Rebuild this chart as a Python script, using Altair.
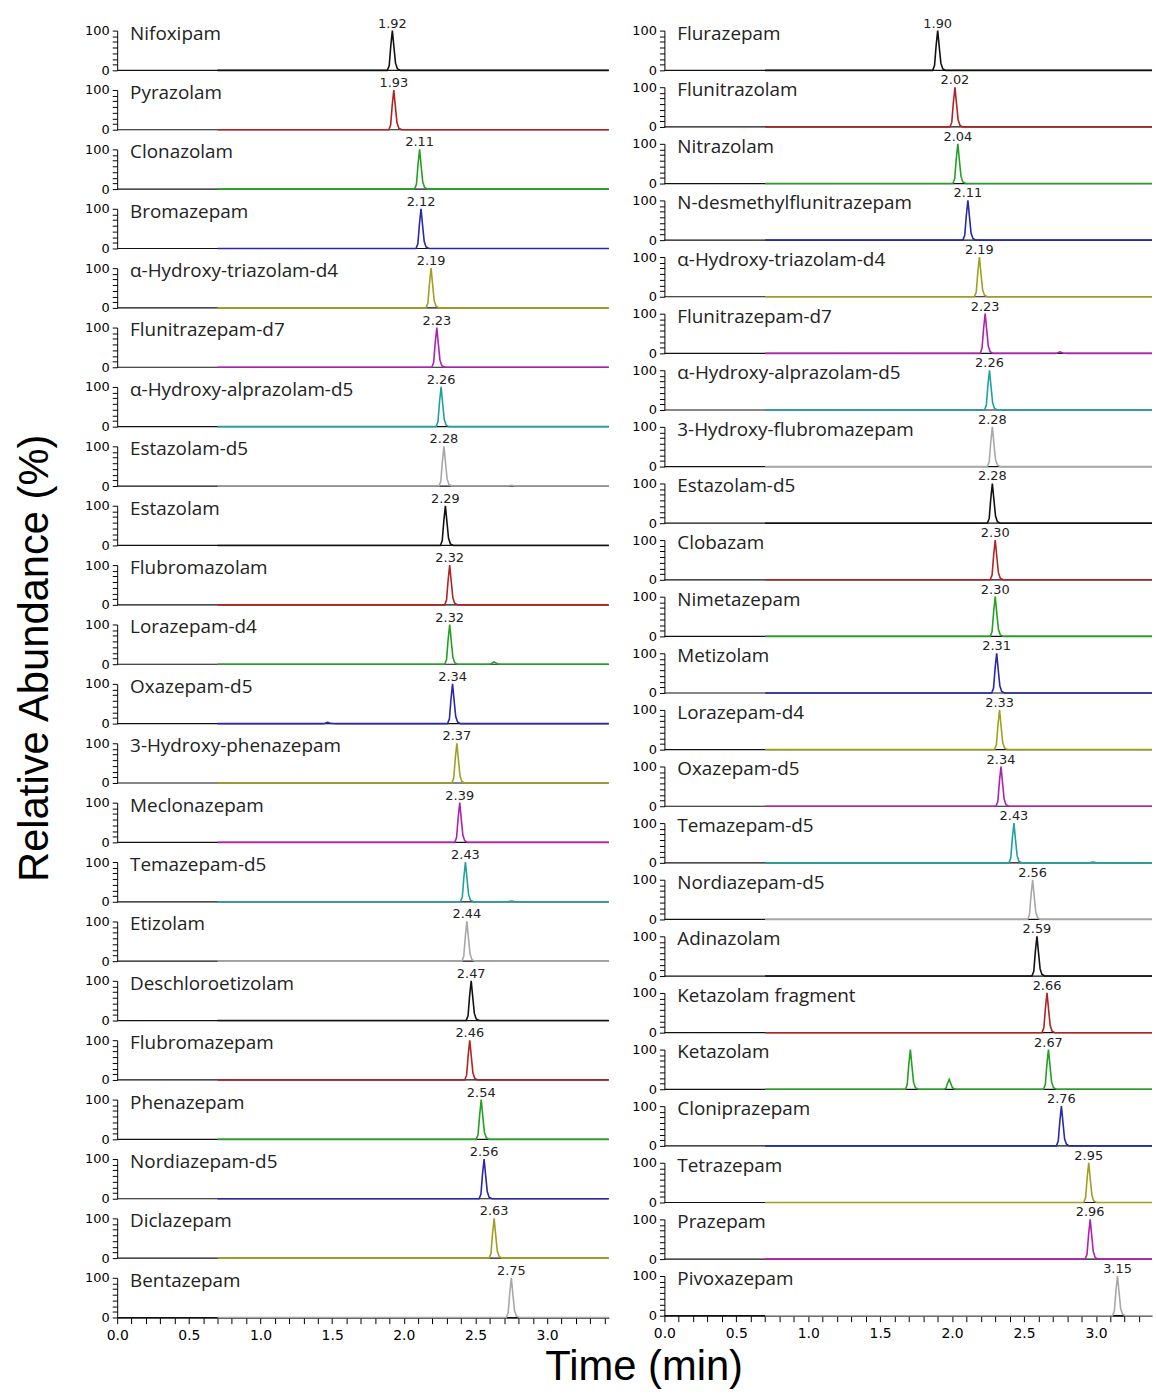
import altair as alt
import pandas as pd

# ---------------- data ----------------
left_names = [
    "Nifoxipam", "Pyrazolam", "Clonazolam", "Bromazepam", "α-Hydroxy-triazolam-d4",
    "Flunitrazepam-d7", "α-Hydroxy-alprazolam-d5", "Estazolam-d5", "Estazolam",
    "Flubromazolam", "Lorazepam-d4", "Oxazepam-d5", "3-Hydroxy-phenazepam",
    "Meclonazepam", "Temazepam-d5", "Etizolam", "Deschloroetizolam", "Flubromazepam",
    "Phenazepam", "Nordiazepam-d5", "Diclazepam", "Bentazepam",
]
left_rt = [1.92, 1.93, 2.11, 2.12, 2.19, 2.23, 2.26, 2.28, 2.29, 2.32, 2.32, 2.34,
           2.37, 2.39, 2.43, 2.44, 2.47, 2.46, 2.54, 2.56, 2.63, 2.75]
left_color_keys = ["black", "red", "green", "blue", "olive", "magenta", "teal", "gray",
                   "black", "red", "green", "blue", "olive", "magenta", "teal", "gray",
                   "black", "red", "green", "blue", "olive", "gray"]

right_names = [
    "Flurazepam", "Flunitrazolam", "Nitrazolam", "N-desmethylflunitrazepam",
    "α-Hydroxy-triazolam-d4", "Flunitrazepam-d7", "α-Hydroxy-alprazolam-d5",
    "3-Hydroxy-flubromazepam", "Estazolam-d5", "Clobazam", "Nimetazepam", "Metizolam",
    "Lorazepam-d4", "Oxazepam-d5", "Temazepam-d5", "Nordiazepam-d5", "Adinazolam",
    "Ketazolam fragment", "Ketazolam", "Cloniprazepam", "Tetrazepam", "Prazepam",
    "Pivoxazepam",
]
right_rt = [1.90, 2.02, 2.04, 2.11, 2.19, 2.23, 2.26, 2.28, 2.28, 2.30, 2.30, 2.31,
            2.33, 2.34, 2.43, 2.56, 2.59, 2.66, 2.67, 2.76, 2.95, 2.96, 3.15]
right_color_keys = ["black", "red", "green", "blue", "olive", "magenta", "teal", "gray",
                    "black", "red", "green", "blue", "olive", "magenta", "teal", "gray",
                    "black", "red", "green", "blue", "olive", "magenta", "gray"]

# peak profile (time offset from apex in min, relative abundance %)
peak_offsets = [-0.035, -0.022, -0.011, 0.0, 0.011, 0.022, 0.035, 0.055]
peak_profile = [0, 12, 62, 100, 58, 18, 4, 0]

# secondary / minor peaks: (column, compound, time, height %)
minor_peaks = [
    ("left", "Lorazepam-d4", 2.63, 6),
    ("left", "Oxazepam-d5", 1.47, 3),
    ("left", "Estazolam-d5", 2.75, 2),
    ("left", "Temazepam-d5", 2.75, 2),
    ("right", "Flunitrazepam-d7", 2.75, 4),
    ("right", "Ketazolam", 1.71, 100),
    ("right", "Ketazolam", 1.98, 25),
    ("right", "Temazepam-d5", 2.98, 2),
]

acq_start = 0.7          # trace starts here (min)
x_major = [0.0, 0.5, 1.0, 1.5, 2.0, 2.5, 3.0]
y_labels = [0, 100]

palette = {
    "black": "#111111", "red": "#B22222", "green": "#22A022", "blue": "#2828A8",
    "olive": "#A0A020", "magenta": "#B020B0", "teal": "#20A0A0", "gray": "#A8A8A8",
}

NAME_FONT = "Open Sans"
NUM_FONT = "DejaVu Sans"
TITLE_FONT = "Liberation Sans"


def build_rows(col, names, rts, color_keys, x_end):
    rows = []
    for name, rt, ck in zip(names, rts, color_keys):
        peaks = [(rt, 100.0, True)]
        for c, n, t, h in minor_peaks:
            if c == col and n == name:
                peaks.append((t, float(h), False))
        peaks.sort()
        col_hex = palette[ck]
        rows.append(dict(compound=name, t=acq_start, ab=0.0, kind="start", label="", color=col_hex))
        for t0, h, main in peaks:
            for off, p in zip(peak_offsets, peak_profile):
                kind = "apex" if (main and off == 0.0) else "pt"
                rows.append(dict(compound=name, t=round(t0 + off, 4), ab=p * h / 100.0,
                                 kind=kind, label=f"{rt:.2f}" if kind == "apex" else "",
                                 color=col_hex))
        rows.append(dict(compound=name, t=x_end, ab=0.0, kind="end", label="", color=col_hex))
    return pd.DataFrame(rows)


def column_chart(col, names, rts, color_keys, x_end, width, spacing):
    df = build_rows(col, names, rts, color_keys, x_end)
    xs = alt.Scale(domain=[0, x_end], nice=False, zero=False)
    ys = alt.Scale(domain=[0, 100], nice=False)
    minor = [round(i * 0.1, 1) for i in range(0, int(x_end * 10 + 1e-6) + 1)]
    major_str = "[" + ",".join(f'"{v:.1f}"' for v in x_major) + "]"
    x_axis = alt.Axis(
        values=minor,
        labelExpr="indexof(" + major_str + ", format(datum.value, '.1f')) >= 0 ? format(datum.value, '.1f') : ''",
        title=None, grid=False, tickSize=6, tickColor="#000", domainColor="#000",
        labelFont=NUM_FONT, labelFontSize=14, labelColor="#000", labelPadding=5,
        labelFlush=False, labelOverlap=False, tickCount=len(minor),
    )
    y_axis = alt.Axis(
        values=[0, 100 / 7, 200 / 7, 300 / 7, 400 / 7, 500 / 7, 600 / 7, 100],
        labelExpr="datum.value == 0 || datum.value == 100 ? format(datum.value, 'd') : ''",
        title=None, grid=False, tickSize=5, tickColor="#000", domainColor="#000",
        labelFont=NUM_FONT, labelFontSize=13, labelColor="#000", labelPadding=3,
        labelOverlap=False,
    )
    base = alt.Chart(df).properties(width=width, height=40)
    baseline = base.transform_filter(alt.datum.kind == "start").mark_rule(
        color="#111", strokeWidth=1.2
    ).encode(
        x=alt.datum(0, scale=xs, axis=x_axis),
        x2=alt.datum(x_end),
        y=alt.datum(0, scale=ys, axis=y_axis),
    )
    trace = base.mark_line(strokeWidth=1.6, interpolate="linear").encode(
        x=alt.X("t:Q", scale=xs, axis=x_axis),
        y=alt.Y("ab:Q", scale=ys, axis=y_axis),
        color=alt.Color("color:N", scale=None),
        detail="compound:N",
    )
    name_text = base.transform_filter(alt.datum.kind == "start").mark_text(
        align="left", baseline="alphabetic", font=NAME_FONT, fontSize=19, color="#222"
    ).encode(x=alt.value(13), y=alt.value(9), text="compound:N")
    rt_text = base.transform_filter(alt.datum.kind == "apex").mark_text(
        align="center", baseline="alphabetic", font=NUM_FONT, fontSize=13, color="#222", dy=-3
    ).encode(x=alt.X("t:Q", scale=xs), y=alt.value(0), text="label:N")
    layered = alt.layer(baseline, trace, name_text, rt_text)
    return layered.facet(
        row=alt.Row("compound:N", sort=names, title=None,
                    header=alt.Header(labels=False, title=None)),
        spacing=spacing,
        bounds="flush",
    )


left = column_chart("left", left_names, left_rt, left_color_keys, 3.43, 495, 19.8)
right = column_chart("right", right_names, right_rt, right_color_keys, 3.39, 491, 17.0)

ytitle = alt.Chart(pd.DataFrame({"t": ["Relative Abundance (%)"]})).mark_text(
    angle=270, align="center", baseline="middle", font=TITLE_FONT, fontSize=42, color="#000"
).encode(x=alt.value(35), y=alt.value(632), text="t:N").properties(width=66, height=1280)

chart = alt.hconcat(ytitle, left, right, spacing=19).properties(
    padding={"left": 0, "top": 13, "right": 0, "bottom": 0},
    title=alt.TitleParams("Time (min)", orient="bottom", anchor="middle", font=TITLE_FONT,
                          fontSize=42, fontWeight="normal", color="#000", dx=67, offset=5),
).configure_view(stroke=None)

chart.save("out.html", embed_options={"renderer": "svg", "actions": False})
